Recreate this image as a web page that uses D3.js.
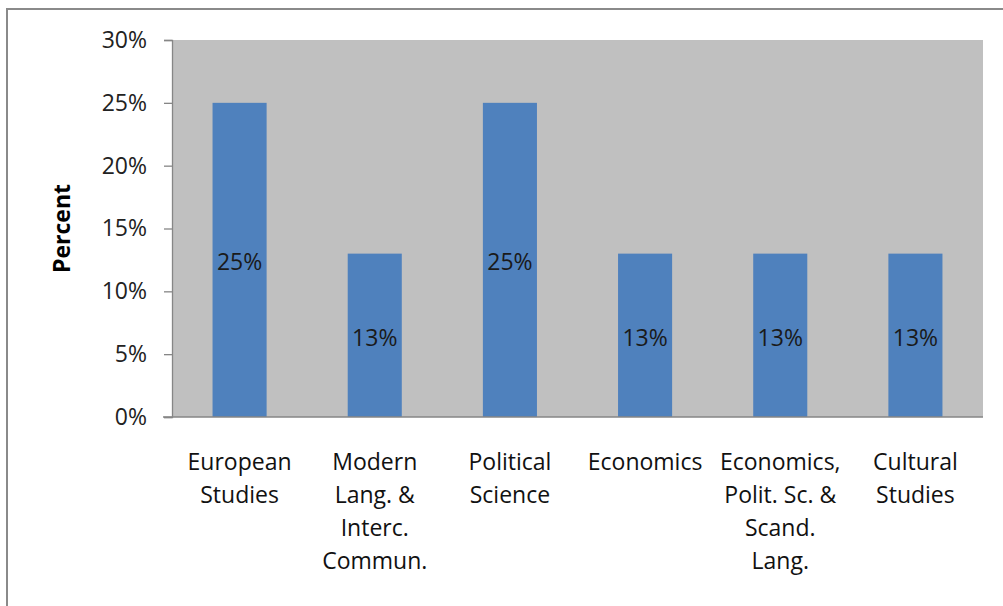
<!DOCTYPE html>
<html>
<head>
<meta charset="utf-8">
<script src="https://cdn.jsdelivr.net/npm/d3@7"></script>
<style>
  html, body { margin: 0; padding: 0; background: #fff; }
  svg { display: block; }
  text { font-family: "Open Sans", Lato, "Liberation Sans", sans-serif; }
</style>
</head>
<body>
<svg id="chart" width="1003" height="606"></svg>
<script>
// Share of respondents by study programme
const categories = [
  "European Studies",
  "Modern Lang. & Interc. Commun.",
  "Political Science",
  "Economics",
  "Economics, Polit. Sc. & Scand. Lang.",
  "Cultural Studies"
];
// wrapped lines for the category labels
const categoryLines = [
  ["European", "Studies"],
  ["Modern", "Lang. &", "Interc.", "Commun."],
  ["Political", "Science"],
  ["Economics"],
  ["Economics,", "Polit. Sc. &", "Scand.", "Lang."],
  ["Cultural", "Studies"]
];
const values = [25, 13, 25, 13, 13, 13];
const yTicks = [0, 5, 10, 15, 20, 25, 30];
const yTitle = "Percent";

const svg = d3.select("#chart");
const fontSize = 23;

// outer chart frame
svg.append("rect")
  .attr("x", 7).attr("y", 9)
  .attr("width", 1010).attr("height", 620)
  .attr("fill", "none")
  .attr("stroke", "#8a8a8a")
  .attr("stroke-width", 2);

const plot = { left: 172, right: 983, top: 40, bottom: 417 };

const x = d3.scaleBand()
  .domain(categories)
  .range([plot.left, plot.right])
  .paddingInner(0.6)
  .paddingOuter(0.3);

const y = d3.scaleLinear()
  .domain([0, 30])
  .range([plot.bottom, plot.top]);

// plot area background
svg.append("rect")
  .attr("x", plot.left).attr("y", plot.top)
  .attr("width", plot.right - plot.left)
  .attr("height", plot.bottom - plot.top)
  .attr("fill", "#c0c0c0");

// bars
svg.append("g").selectAll("rect")
  .data(values)
  .join("rect")
  .attr("x", (d, i) => x(categories[i]))
  .attr("y", d => y(d))
  .attr("width", x.bandwidth())
  .attr("height", d => y(0) - y(d))
  .attr("fill", "#4f81bd");

// value labels centred in bars
svg.append("g").selectAll("text")
  .data(values)
  .join("text")
  .attr("x", (d, i) => x(categories[i]) + x.bandwidth() / 2)
  .attr("y", d => (y(d) + y(0)) / 2 + 2)
  .attr("dy", "0.36em")
  .attr("text-anchor", "middle")
  .attr("font-size", fontSize)
  .attr("fill", "#1a1a1a")
  .text(d => d + "%");

// y axis
const yAxis = d3.axisLeft(y)
  .tickValues(yTicks)
  .tickFormat(d => d + "%")
  .tickSize(8)
  .tickPadding(17);

const gy = svg.append("g")
  .attr("transform", `translate(${plot.left},0)`)
  .call(yAxis);
gy.select(".domain").attr("stroke", "#868686").attr("stroke-width", 1.3);
gy.selectAll(".tick line").attr("stroke", "#868686").attr("stroke-width", 1.3);
gy.selectAll(".tick text")
  .attr("font-size", fontSize)
  .attr("fill", "#222")
  .style("font-family", '"Open Sans", Lato, sans-serif');

// x axis line
const xAxis = d3.axisBottom(x).tickSize(0).tickFormat("");
const gx = svg.append("g")
  .attr("transform", `translate(0,${plot.bottom})`)
  .call(xAxis);
gx.select(".domain")
  .attr("stroke", "#868686")
  .attr("stroke-width", 1.3)
  .attr("d", `M${plot.left - 9},0H${plot.right}`);

// category labels
const catG = svg.append("g").selectAll("text")
  .data(categoryLines)
  .join("text")
  .attr("x", (d, i) => x(categories[i]) + x.bandwidth() / 2)
  .attr("y", 470)
  .attr("text-anchor", "middle")
  .attr("font-size", fontSize)
  .attr("fill", "#111");
catG.selectAll("tspan")
  .data(d => d)
  .join("tspan")
  .attr("x", function () { return d3.select(this.parentNode).attr("x"); })
  .attr("dy", (d, i) => i === 0 ? 0 : 33)
  .text(d => d);

// y axis title
svg.append("text")
  .attr("transform", `translate(70,${(plot.top + plot.bottom) / 2}) rotate(-90)`)
  .attr("text-anchor", "middle")
  .attr("font-size", fontSize)
  .attr("font-weight", "bold")
  .attr("fill", "#000")
  .text(yTitle);
</script>
</body>
</html>
